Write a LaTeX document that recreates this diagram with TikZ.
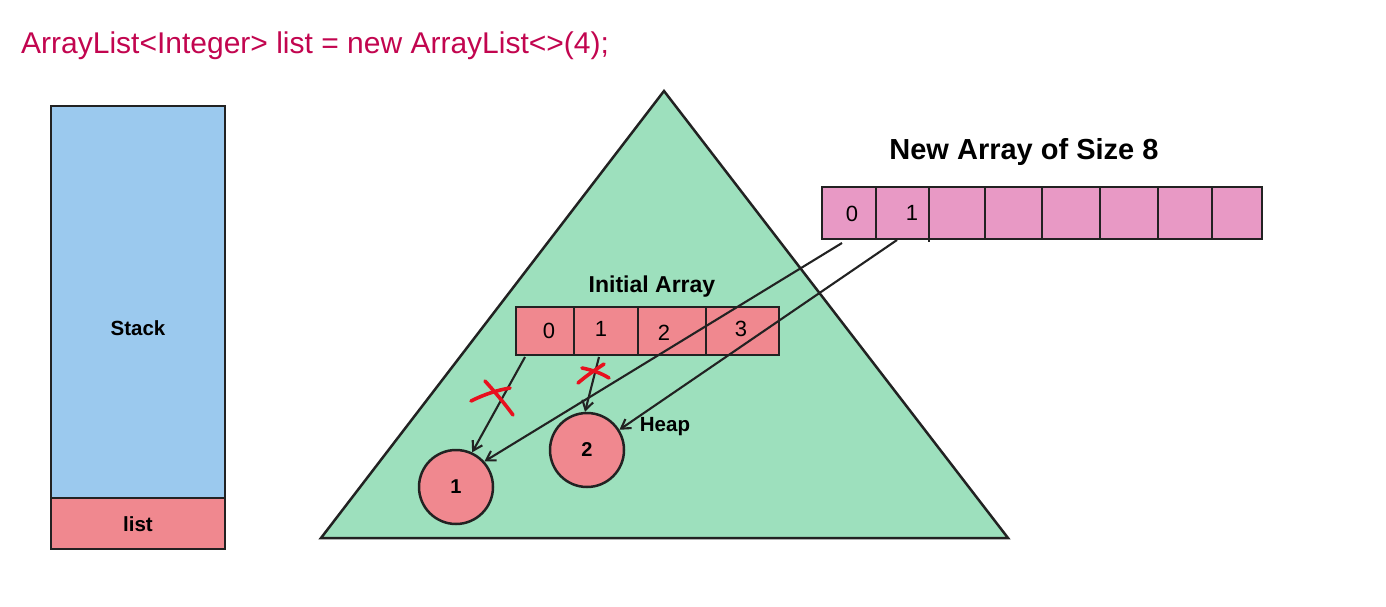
\documentclass[tikz,border=0pt]{standalone}
\usepackage{fontspec}
\setmainfont{Liberation Sans}
\usetikzlibrary{arrows.meta}
\definecolor{titlecol}{HTML}{C2054F}
\definecolor{stackblue}{HTML}{9BC9EE}
\definecolor{listred}{HTML}{F0888F}
\definecolor{heapgreen}{HTML}{9DE0BD}
\definecolor{newpink}{HTML}{E899C5}
\definecolor{ink}{HTML}{222222}
\definecolor{crossred}{HTML}{E8101E}
\tikzset{
  x=1pt, y=-1pt,
  outline/.style={draw=ink, line width=2.5pt},
  cell/.style={outline, fill=listred},
  newcell/.style={outline, fill=newpink},
  lbl/.style={font=\fontsize{20.5}{23}\selectfont\bfseries, text=black},
  num/.style={font=\fontsize{22}{24}\selectfont, text=black},
  ptr/.style={draw=ink, line width=2.1pt, -{Straight Barb[length=9pt,width=11pt,line width=2.1pt]}},
  cross/.style={draw=crossred, line width=3.6pt, line cap=round},
  heapobj/.style={circle, outline, fill=listred, minimum size=74pt, inner sep=0pt, font=\fontsize{20}{22}\selectfont\bfseries}
}
\begin{document}
\begin{tikzpicture}
\useasboundingbox (0,0) rectangle (1386,607);
% title
\node[anchor=west, text=titlecol, font=\fontsize{30}{34}\selectfont, inner sep=0pt] (title) at (21,46) {ArrayList<Integer> list = new ArrayList<>(4);};
% stack
\draw[outline, fill=stackblue] (51,106) rectangle (225,498);
\node[lbl] (stack) at (138,328) {Stack};
\draw[outline, fill=listred] (51,498) rectangle (225,549);
\node[lbl] (listvar) at (138,524) {list};
% heap triangle
\draw[outline, fill=heapgreen] (664,91) -- (1008,538) -- (321,538) -- cycle;
\node[lbl] (heaplbl) at (665,427) {Heap};
% initial array
\node[font=\fontsize{23}{26}\selectfont\bfseries] (inittitle) at (652,287) {Initial Array};
\draw[cell] (516,307) rectangle (779,355);
\draw[outline] (574,307) -- (574,355) (638,307) -- (638,355) (706,307) -- (706,355);
\node[num] (i0) at (549,331) {0};
\node[num] (i1) at (601,329) {1};
\node[num] (i2) at (664,333) {2};
\node[num] (i3) at (741,329) {3};
\coordinate (i0b) at (525,357);
\coordinate (i1b) at (599,357);
% heap objects
\node[heapobj] (o1) at (456,487) {1};
\node[heapobj] (o2) at (587,450) {2};
% new array
\node[font=\fontsize{29}{32}\selectfont\bfseries] (newtitle) at (1024,152) {New Array of Size 8};
\draw[newcell] (822,187) rectangle (1262,239);
\draw[outline] (876,187) -- (876,239) (929,187) -- (929,242) (985,187) -- (985,239)
  (1042,187) -- (1042,240) (1100,187) -- (1100,239) (1158,187) -- (1158,240) (1212,187) -- (1212,240);
\node[num] (n0) at (852,214) {0};
\node[num] (n1) at (912,213) {1};
\coordinate (n0b) at (842,243);
\coordinate (n1b) at (897,240);
% pointers
\draw[ptr] (i0b) -- (o1.65);
\draw[ptr] (i1b) -- (o2.93);
\draw[ptr] (n0b) -- (o1.42);
\draw[ptr] (n1b) -- (o2.32);
% crosses
\draw[cross] (471,401) .. controls (485,394) and (498,390) .. (510,388);
\draw[cross] (485,381) .. controls (495,392) and (505,404) .. (513,415);
\draw[cross] (578,383) .. controls (586,376) and (595,370) .. (604,364);
\draw[cross] (582,368) .. controls (592,370) and (601,373) .. (609,378);
\end{tikzpicture}
\end{document}
